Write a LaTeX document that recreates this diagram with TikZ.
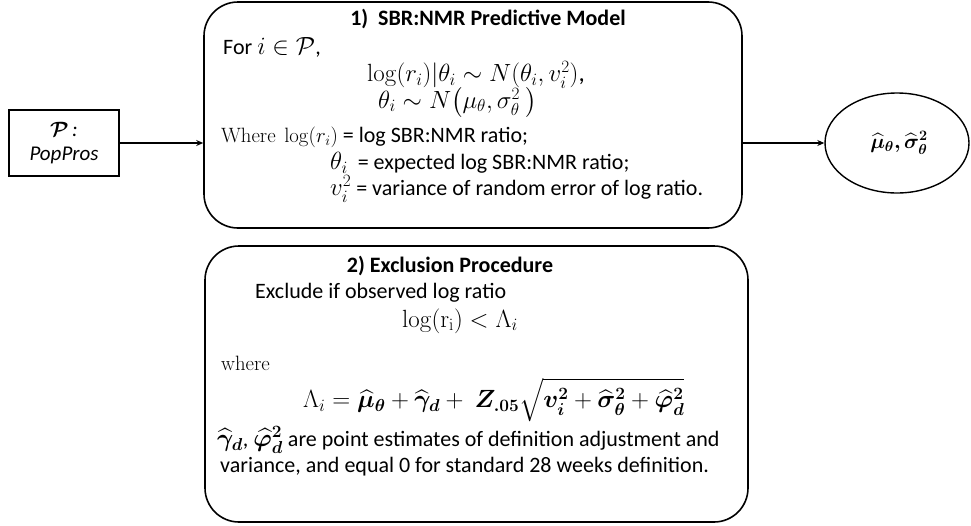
\documentclass[tikz,border=0pt]{standalone}
\usepackage{amsmath,amssymb,bm}
\usepackage[no-math]{fontspec}
\setmainfont{Carlito}
\usetikzlibrary{shapes.geometric,arrows.meta}
\newcommand{\mm}[1]{{\fontsize{25}{26}\selectfont$#1$}}
\newcommand{\ms}[1]{{\fontsize{22.5}{26}\selectfont$#1$}}
\tikzset{
  bigbox/.style={draw, line width=1.6pt, rounded corners=34pt, inner sep=0pt},
  srcbox/.style={draw, line width=1.6pt, inner sep=0pt, minimum width=110pt, minimum height=66pt, align=center, font=\fontsize{21}{26}\selectfont},
  outell/.style={draw, ellipse, line width=1.4pt, minimum width=144pt, minimum height=100pt, inner sep=0pt},
  conn/.style={line width=1.4pt, -{Stealth[length=7pt,width=6pt]}},
  txt/.style={inner sep=0pt, font=\fontsize{22}{26}\selectfont},
  mth/.style={inner sep=0pt, font=\fontsize{25}{28}\selectfont},
  ttl/.style={inner sep=0pt, font=\fontsize{22}{26}\selectfont\bfseries},
}
\begin{document}
\begin{tikzpicture}[x=1pt,y=-1pt]
\useasboundingbox (0,0) rectangle (971,525);
% boxes
\node[bigbox, minimum width=538pt, minimum height=226pt] (m1) at (473,115) {};
\node[bigbox, minimum width=543pt, minimum height=276pt] (m2) at (476.5,384) {};
\node[srcbox] (src) at (64,143) {$\bm{\mathcal{P}}$\,\textit{:}\\[-2pt]\textit{PopPros}};
\node[outell] (out) at (897,143) {};
\node[txt, font=\fontsize{21}{24}\selectfont] (outl) at (899,143) {$\bm{\widehat{\mu}_\theta, \widehat{\sigma}^2_\theta}$};
% connectors
\coordinate (m1w) at (m1.west |- src.east);
\draw[conn] (src.east) -- (m1w);
\draw[conn] (m1.east |- out.west) -- (out.west);
% box 1 text
\node[ttl] (t1) at (488,19) {1)\ \ SBR:NMR Predictive Model};
\node[txt, anchor=west] (for) at (223,47) {For \mm{i \in \mathcal{P}},};
\node[mth, anchor=west] (eq1) at (367,75) {$\log(r_i)|\theta_i \sim N(\theta_i, v_i^2)$,};
\node[mth, anchor=west] (eq2) at (378,102) {$\theta_i \sim N\bigl(\mu_\theta, \sigma_\theta^2\ \bigr)$};
\node[txt, anchor=west] (w1) at (221,137) {\ms{\mathrm{Where}\ \log(r_i)} = log SBR:NMR ratio;};
\node[txt, anchor=west] (w2) at (330,163) {\mm{\theta_i}\ \ = expected log SBR:NMR ratio;};
\node[txt, anchor=west] (w3) at (330,189) {\mm{v_i^2} = variance of random error of log ratio.};
% box 2 text
\node[ttl] (t2) at (450,266) {2) Exclusion Procedure};
\node[txt, anchor=west] (ex) at (255,293) {Exclude if observed log ratio};
\node[mth] (ineq) at (460,321) {$\log(\mathrm{r}_\mathrm{i}) < \Lambda_i$};
\node[mth, anchor=west, font=\fontsize{22.5}{26}\selectfont] (wh) at (221,363) {$\mathrm{where}$};
\node[mth, anchor=west, font=\fontsize{24}{27}\selectfont] (lam) at (303,400) {$\Lambda_i = \bm{\widehat{\mu}_\theta} + \bm{\widehat{\gamma}_d} +\ \bm{Z_{.05}}\sqrt{\bm{v_i^2} + \bm{\widehat{\sigma}^2_\theta} + \bm{\widehat{\varphi}^2_d}}$};
\node[txt, anchor=west] (pe1) at (217,440) {\mm{\bm{\widehat{\gamma}_d}}, \mm{\bm{\widehat{\varphi}^2_d}} are point estimates of definition adjustment and};
\node[txt, anchor=west] (pe2) at (220,467) {variance, and equal 0 for standard 28 weeks definition.};
\end{tikzpicture}
\end{document}
